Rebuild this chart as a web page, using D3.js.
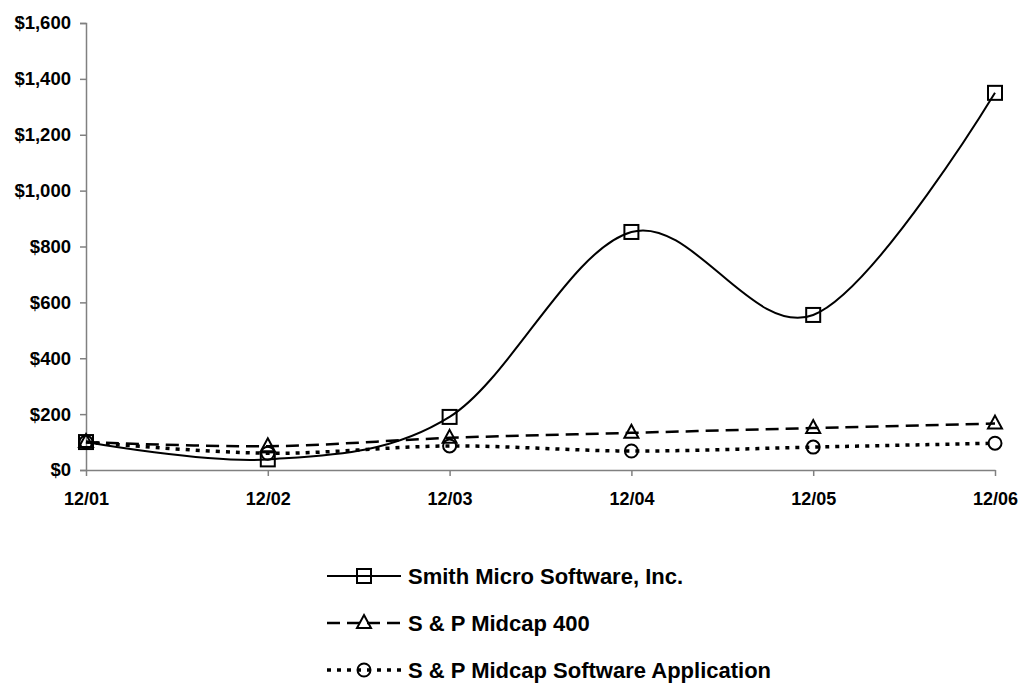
<!DOCTYPE html>
<html>
<head>
<meta charset="utf-8">
<script src="https://d3js.org/d3.v7.min.js"></script>
<style>
  body { margin: 0; background: #fff; }
  text { font-family: "Liberation Sans", Arial, sans-serif; font-weight: bold; }
</style>
</head>
<body>
<div id="chart"></div>
<script>
// data
var years = ["12/01", "12/02", "12/03", "12/04", "12/05", "12/06"];
var smith = [100, 38, 190, 852, 555, 1350];
var midcap = [100, 85, 115, 133, 150, 166];
var software = [100, 60, 86, 68, 82, 96];
var yTicks = [0, 200, 400, 600, 800, 1000, 1200, 1400, 1600];

var series = [
  {name: "Smith Micro Software, Inc.", values: smith, dash: null, width: 2, marker: "square"},
  {name: "S & P Midcap 400", values: midcap, dash: "13,7", width: 2.5, marker: "triangle"},
  {name: "S & P Midcap Software Application", values: software, dash: "4,6", width: 3.5, marker: "circle"}
];

// drawing params
const width = 1021, height = 685;
const mLeft = 86, mRight = 995, mTop = 23, mBottom = 470;

var svg = d3.select("#chart").append("svg")
  .attr("width", width)
  .attr("height", height);

var x = d3.scalePoint().domain(years).range([mLeft, mRight]);
var y = d3.scaleLinear().domain([0, 1600]).range([mBottom, mTop]);

// y axis
var yAxis = svg.append("g")
  .attr("transform", "translate(" + mLeft + ",0)")
  .call(d3.axisLeft(y).tickValues(yTicks).tickSize(6).tickPadding(9)
    .tickFormat(d => "$" + d3.format(",")(d)));
yAxis.selectAll("path, line").attr("stroke", "#808080").attr("stroke-width", 1.5);
yAxis.selectAll("text").attr("font-size", 18.5).attr("fill", "#000");

// x axis
var xAxis = svg.append("g")
  .attr("transform", "translate(0," + mBottom + ")")
  .call(d3.axisBottom(x).tickSize(6).tickPadding(16).tickSizeOuter(0));
xAxis.selectAll("path, line").attr("stroke", "#808080").attr("stroke-width", 1.5);
xAxis.selectAll("text").attr("font-size", 18).attr("fill", "#000");

var line = d3.line()
  .x((d, i) => x(years[i]))
  .y(d => y(d))
  .curve(d3.curveCardinal.tension(0));

function drawMarker(g, type, cx, cy) {
  if (type === "square") {
    g.append("rect").attr("x", cx - 7).attr("y", cy - 7).attr("width", 14).attr("height", 14)
      .attr("fill", "none").attr("stroke", "#000").attr("stroke-width", 2);
  } else if (type === "triangle") {
    g.append("path")
      .attr("d", "M" + cx + "," + (cy - 8) + "L" + (cx + 7) + "," + (cy + 5) + "L" + (cx - 7) + "," + (cy + 5) + "Z")
      .attr("fill", "none").attr("stroke", "#000").attr("stroke-width", 2);
  } else {
    g.append("circle").attr("cx", cx).attr("cy", cy).attr("r", 6.5)
      .attr("fill", "none").attr("stroke", "#000").attr("stroke-width", 2);
  }
}

series.forEach(function(s) {
  var g = svg.append("g");
  g.append("path")
    .datum(s.values)
    .attr("d", line)
    .attr("fill", "none")
    .attr("stroke", "#000")
    .attr("stroke-width", s.width)
    .attr("stroke-dasharray", s.dash);
  s.values.forEach(function(v, i) {
    drawMarker(g, s.marker, x(years[i]), y(v));
  });
});

// legend
var legendY = [576, 623, 670];
series.forEach(function(s, i) {
  var g = svg.append("g");
  var ly = legendY[i];
  g.append("line")
    .attr("x1", 327).attr("x2", 401)
    .attr("y1", ly).attr("y2", ly)
    .attr("stroke", "#000")
    .attr("stroke-width", s.width)
    .attr("stroke-dasharray", s.dash);
  drawMarker(g, s.marker, 364, ly);
  g.append("text")
    .attr("x", 408).attr("y", ly + 8)
    .attr("font-size", 22)
    .text(s.name);
});
</script>
</body>
</html>
